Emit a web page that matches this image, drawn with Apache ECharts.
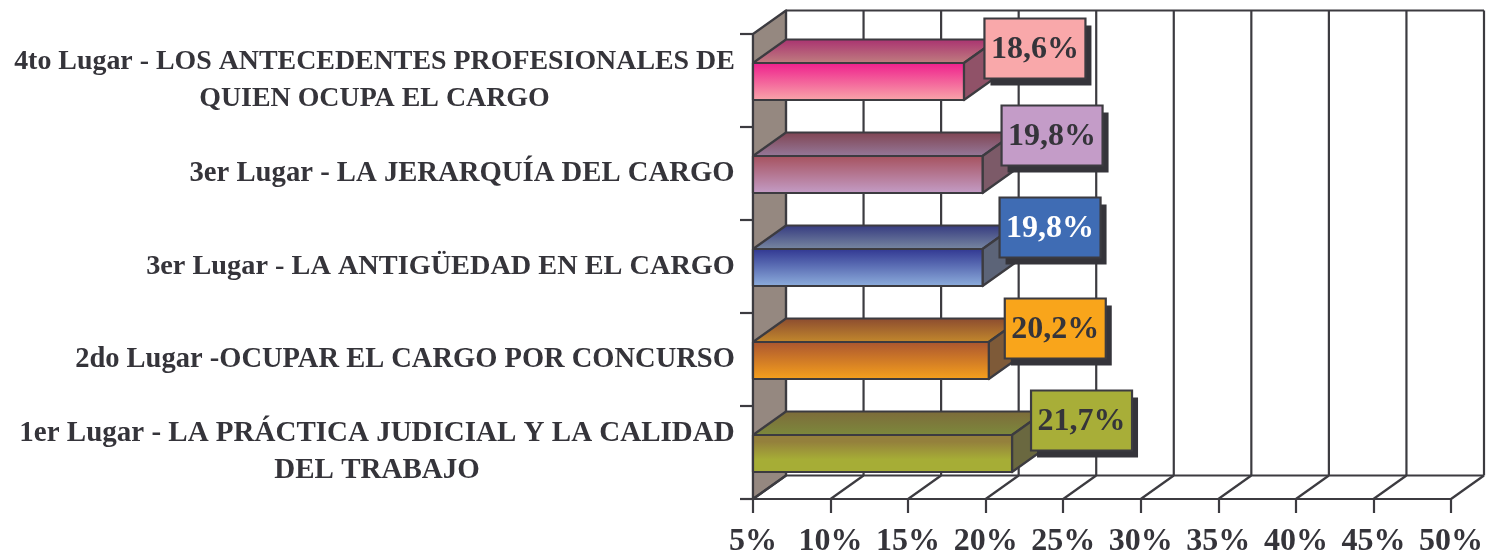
<!DOCTYPE html>
<html><head><meta charset="utf-8">
<style>html,body{margin:0;padding:0;background:#fff}#c{width:1486px;height:557px}</style>
<script src="https://cdn.jsdelivr.net/npm/echarts@6/dist/echarts.min.js"></script>
</head><body><div id="c"></div>
<script>
const categories = [
  '1er Lugar - LA PRÁCTICA JUDICIAL Y LA CALIDAD\nDEL TRABAJO',
  '2do Lugar -OCUPAR EL CARGO POR CONCURSO',
  '3er Lugar - LA ANTIGÜEDAD EN EL CARGO',
  '3er Lugar - LA JERARQUÍA DEL CARGO',
  '4to Lugar - LOS ANTECEDENTES PROFESIONALES DE\nQUIEN OCUPA EL CARGO'
];
const values = [21.7, 20.2, 19.8, 19.8, 18.6];
const ticks = [5,10,15,20,25,30,35,40,45,50];
const labelFontSizes = [29, 28.5, 28.3, 28.7, 27.9];
// palettes: front top/bottom, top-face back/front, side, box, text
const palettes = [
  {ft:'#94803c',fm:'#a6ad36',fb:'#a6ad36',tb:'#7d6a3a',tf:'#7c8a3c',s:'#6a6840',box:'#a8ae38',txt:'#35343a'},
  {ft:'#a95430',fb:'#f8a21c',tb:'#8a4a30',tf:'#c48a2c',s:'#7e5a38',box:'#f9a51b',txt:'#35343a'},
  {ft:'#2f3590',fb:'#8fb0de',tb:'#33387f',tf:'#7a8aa2',s:'#5c6478',box:'#3f6cb4',txt:'#ffffff'},
  {ft:'#a5505c',fb:'#c49ec8',tb:'#7f4350',tf:'#967a9c',s:'#7c5a68',box:'#c49cc8',txt:'#35343a'},
  {ft:'#ee1c8c',fb:'#f9a8aa',tb:'#a93070',tf:'#c08080',s:'#905268',box:'#f9a8aa',txt:'#35343a'}
];
const labelOffsets = [[69.5,-33],[66.5,-32],[67.5,-40],[69.5,-39],[71,-33]];
const INK='#3c3b40', DX=33, DY=-23.5, BAR_H=37, BAR_SHIFT=1, BOX_W=101, BOX_H=60, lw=2.2;
const FAMILY='Liberation Serif', TEXT='#35343a';
const grad=(a,b,m)=>({type:'linear',x:0,y:0,x2:0,y2:1,colorStops:m
  ?[{offset:0,color:a},{offset:.2,color:a},{offset:.65,color:m},{offset:1,color:b}]
  :[{offset:0,color:a},{offset:1,color:b}]});
const ln=(x1,y1,x2,y2)=>({type:'line',shape:{x1,y1,x2,y2},style:{stroke:INK,lineWidth:lw}});
const poly=(points,fill)=>({type:'polygon',shape:{points},style:{fill,stroke:INK,lineWidth:lw,lineJoin:'round'}});

// Each label block is as wide as its longest line, so its lines centre within the block and the block sits right-aligned.
const probe=document.createElement('canvas').getContext('2d');
const rich={};
categories.forEach((c,i)=>{
  probe.font=`bold ${labelFontSizes[i]}px "${FAMILY}"`;
  const w=Math.ceil(Math.max(...c.split('\n').map(s=>probe.measureText(s).width)));
  rich['a'+i]={width:w,align:'center',fontSize:labelFontSizes[i],fontWeight:'bold',fontFamily:FAMILY,color:TEXT,lineHeight:37};
});

const chart=echarts.init(document.getElementById('c'),null,{renderer:'canvas'});
chart.setOption({
  animation:false,
  backgroundColor:'#fff',
  textStyle:{fontFamily:FAMILY},
  grid:{left:753,right:35,top:34,bottom:58,containLabel:false,outerBoundsMode:'none'},
  xAxis:{type:'value',min:5,max:50,interval:5,position:'bottom',
    splitLine:{show:false},
    axisLine:{show:true,onZero:false,lineStyle:{color:INK,width:lw}},
    axisTick:{show:true,length:14,lineStyle:{color:INK,width:lw}},
    axisLabel:{show:true,formatter:'{value}%',margin:27,color:TEXT,fontSize:32,fontWeight:'bold',fontFamily:FAMILY,hideOverlap:false,showMinLabel:true,showMaxLabel:true}},
  yAxis:{type:'category',data:categories,
    splitLine:{show:false},
    axisLine:{show:true,lineStyle:{color:INK,width:lw}},
    axisTick:{show:true,length:13,lineStyle:{color:INK,width:lw}},
    axisLabel:{show:true,interval:0,margin:18,align:'right',
      formatter:(v,i)=>v.split('\n').map(s=>`{a${i}|${s}}`).join('\n'),rich}},
  series:[
    {type:'custom',name:'frame',coordinateSystem:'cartesian2d',silent:true,clip:false,z:1,
     data:ticks.map(t=>[t]),encode:{x:0},
     renderItem(params,api){
       const v=api.value(0), g=params.coordSys;
       const x=api.coord([v,0])[0], top=g.y, bot=g.y+g.height;
       const ch=[ln(x+DX,top+DY,x+DX,bot+DY), ln(x,bot,x+DX,bot+DY)];
       if(params.dataIndex===0){
         ch.unshift(poly([[x,top],[x+DX,top+DY],[x+DX,bot+DY],[x,bot]],'#958880'));
         ch.push(ln(x+DX,top+DY,g.x+g.width+DX,top+DY));
         ch.push(ln(x+DX,bot+DY,g.x+g.width+DX,bot+DY));
       }
       return {type:'group',children:ch};
     }},
    {type:'custom',name:'bars',coordinateSystem:'cartesian2d',silent:true,clip:false,z:2,
     data:values.map((v,i)=>[v,i]),encode:{x:0,y:1},
     renderItem(params,api){
       const i=api.value(1), val=api.value(0), p=palettes[i];
       const e=api.coord([val,i]), s=api.coord([5,i]);
       const y0=e[1]+BAR_SHIFT-BAR_H/2, y1=y0+BAR_H, x0=s[0], x1=e[0];
       return {type:'group',children:[
         poly([[x0,y0],[x0+DX,y0+DY],[x1+DX,y0+DY],[x1,y0]],grad(p.tb,p.tf)),
         poly([[x1,y0],[x1+DX,y0+DY],[x1+DX,y1+DY],[x1,y1]],p.s),
         poly([[x0,y0],[x1,y0],[x1,y1],[x0,y1]],grad(p.ft,p.fb,p.fm))
       ]};
     }},
    {type:'custom',name:'labels',coordinateSystem:'cartesian2d',silent:true,clip:false,z:3,
     data:values.map((v,i)=>[v,i]),encode:{x:0,y:1},
     renderItem(params,api){
       const i=api.value(1), val=api.value(0), p=palettes[i], o=labelOffsets[i];
       const e=api.coord([val,i]);
       const cx=e[0]+o[0], cy=e[1]+BAR_SHIFT+o[1], x=cx-BOX_W/2, y=cy-BOX_H/2;
       return {type:'group',children:[
         {type:'rect',shape:{x:x+6,y:y+7,width:BOX_W,height:BOX_H},style:{fill:'#35343a'}},
         {type:'rect',shape:{x,y,width:BOX_W,height:BOX_H},style:{fill:p.box,stroke:INK,lineWidth:lw}},
         {type:'text',style:{x:cx,y:cy+1,text:val.toFixed(1).replace('.',',')+'%',fill:p.txt,
            font:`bold 32px "${FAMILY}"`,textAlign:'center',textVerticalAlign:'middle'}}
       ]};
     }}
  ]
});
</script></body></html>
